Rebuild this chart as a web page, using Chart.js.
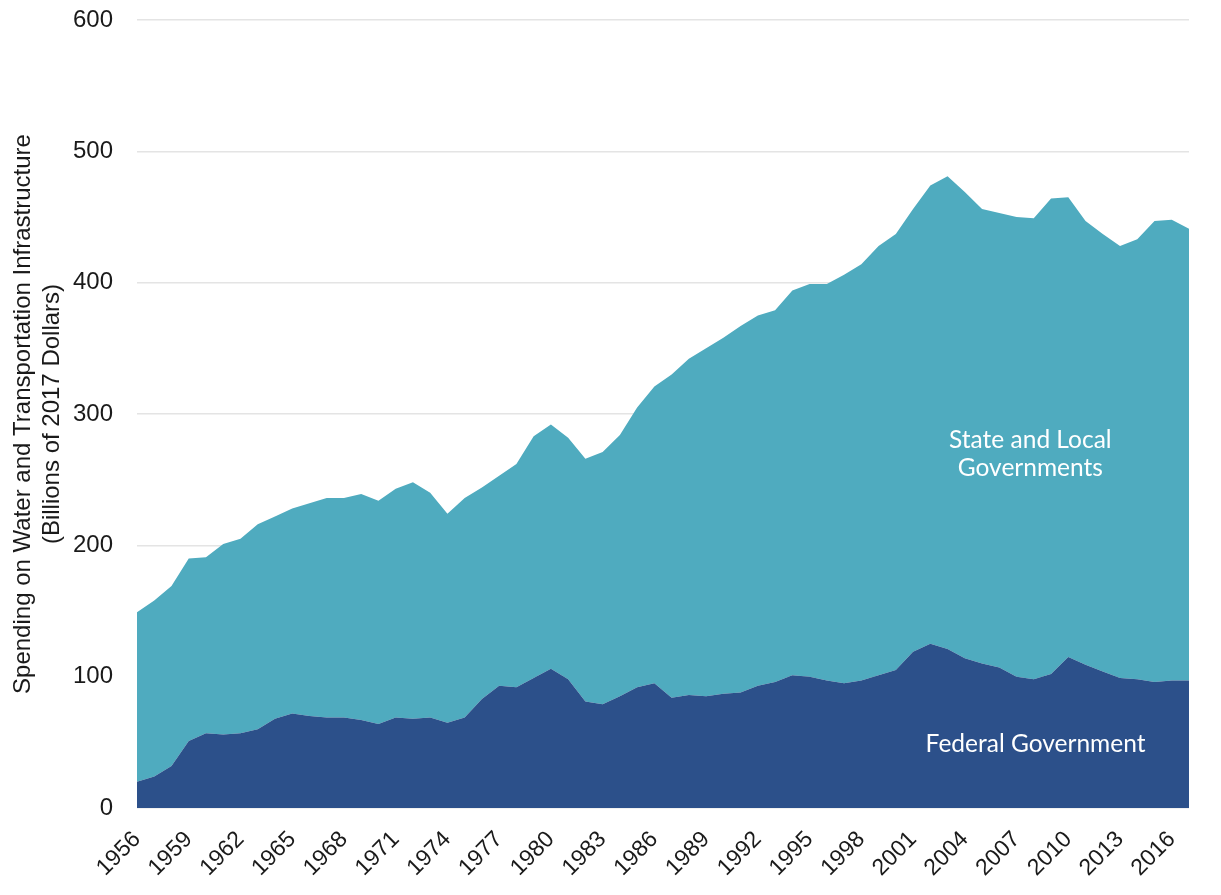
<!DOCTYPE html>
<html>
<head>
<meta charset="utf-8">
<title>Water and Transportation Infrastructure Spending</title>
<script src="https://cdn.jsdelivr.net/npm/chart.js@4.4.0/dist/chart.umd.min.js"></script>
<style>
    html, body { margin: 0; padding: 0; background: #ffffff; }
    #wrap { width: 1221px; height: 895px; position: relative; }
</style>
</head>
<body>
<div id="wrap"><canvas id="spendingChart"></canvas></div>
<script>
// Years 1956-2017
const years = [];
for (let y = 1956; y <= 2017; y++) years.push(String(y));

// Billions of 2017 dollars
const federal = [
    20, 24, 32, 51, 57, 56, 57, 60, 68, 72,
    70, 69, 69, 67, 64, 69, 68, 69, 65, 69,
    83, 93, 92, 99, 106, 98, 81, 79, 85, 92,
    95, 84, 86, 85, 87, 88, 93, 96, 101, 100,
    97, 95, 97, 101, 105, 119, 125, 121, 114, 110,
    107, 100, 98, 102, 115, 109, 104, 99, 98, 96,
    97, 97
];

const stateLocal = [
    129, 134, 137, 139, 134, 145, 148, 156, 154, 156,
    162, 167, 167, 172, 170, 174, 180, 171, 159, 167,
    161, 160, 170, 184, 186, 184, 185, 192, 199, 213,
    226, 246, 256, 265, 271, 279, 282, 283, 293, 299,
    302, 311, 317, 327, 332, 337, 349, 360, 355, 346,
    346, 350, 351, 362, 350, 338, 333, 329, 335, 351,
    351, 344
];

const yTicks = [0, 100, 200, 300, 400, 500, 600];

const seriesNames = ['Federal Government', 'State and Local Governments'];
const seriesColors = ['#2c508a', '#4fabbf'];

// Text labels written inside the areas
const areaLabels = [
    { lines: ['State and Local', 'Governments'], at: 51.8, value: 280 },
    { lines: ['Federal Government'], at: 52.1, value: 49 }
];

const areaLabelPlugin = {
    id: 'areaLabels',
    afterDatasetsDraw(chart) {
        const ctx = chart.ctx;
        const xs = chart.scales.x;
        const ys = chart.scales.y;
        ctx.save();
        ctx.fillStyle = '#ffffff';
        ctx.font = '24.5px Lato, "Open Sans", sans-serif';
        ctx.textAlign = 'center';
        ctx.textBaseline = 'middle';
        areaLabels.forEach(lbl => {
            const x = xs.getPixelForValue(lbl.at);
            const y0 = ys.getPixelForValue(lbl.value);
            lbl.lines.forEach((line, i) => {
                ctx.fillText(line, x, y0 + i * 28);
            });
        });
        ctx.restore();
    }
};

const ctx = document.getElementById('spendingChart').getContext('2d');

new Chart(ctx, {
    type: 'line',
    data: {
        labels: years,
        datasets: [
            {
                label: seriesNames[0],
                data: federal,
                backgroundColor: seriesColors[0],
                borderColor: seriesColors[0],
                borderWidth: 0,
                pointRadius: 0,
                tension: 0,
                fill: 'origin'
            },
            {
                label: seriesNames[1],
                data: stateLocal,
                backgroundColor: seriesColors[1],
                borderColor: seriesColors[1],
                borderWidth: 0,
                pointRadius: 0,
                tension: 0,
                fill: '-1'
            }
        ]
    },
    options: {
        responsive: true,
        maintainAspectRatio: false,
        animation: false,
        layout: {
            padding: { top: 20, right: 32, bottom: 0, left: 0 }
        },
        plugins: {
            legend: { display: false },
            tooltip: { enabled: false }
        },
        scales: {
            x: {
                offset: false,
                grid: { display: false },
                border: { display: false },
                ticks: {
                    autoSkip: false,
                    minRotation: 45,
                    maxRotation: 45,
                    padding: 10,
                    color: '#1a1a1a',
                    font: { family: '"Liberation Sans", Arial, sans-serif', size: 23 },
                    callback: (val, i) => (i % 3 === 0 ? years[i] : '')
                },
                afterFit: (scale) => {
                    scale.height = 87;
                    scale.paddingRight = 0;
                }
            },
            y: {
                stacked: true,
                min: 0,
                max: 600,
                afterBuildTicks: (scale) => {
                    scale.ticks = yTicks.map(v => ({ value: v }));
                },
                grid: {
                    color: '#e4e4e4',
                    lineWidth: 1.5,
                    drawTicks: false
                },
                border: { display: false },
                ticks: {
                    padding: 24,
                    color: '#1a1a1a',
                    font: { family: '"Liberation Sans", Arial, sans-serif', size: 24 }
                },
                title: {
                    display: true,
                    text: ['Spending on Water and Transportation Infrastructure', '(Billions of 2017 Dollars)'],
                    color: '#1a1a1a',
                    font: { family: '"Liberation Sans", Arial, sans-serif', size: 24, lineHeight: 1.2 },
                    padding: { top: 9, bottom: 0 }
                },
                afterFit: (scale) => {
                    scale.width = 137;
                    scale.paddingTop = 0;
                    scale.paddingBottom = 0;
                }
            }
        }
    },
    plugins: [areaLabelPlugin]
});
</script>
</body>
</html>
